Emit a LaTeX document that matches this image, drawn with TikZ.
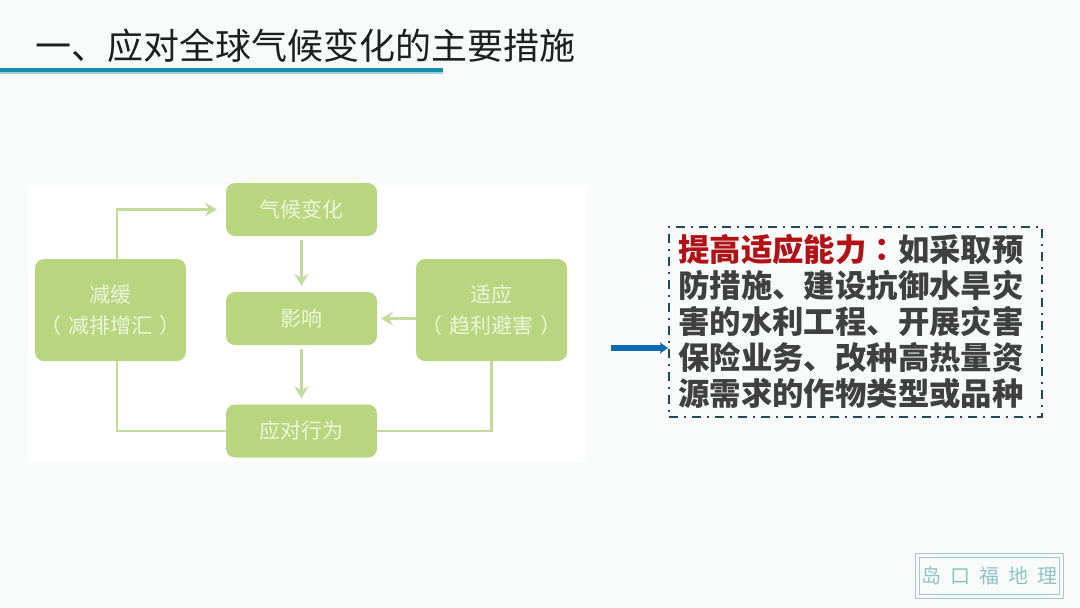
\documentclass[tikz,border=0pt]{standalone}
\usepackage{fontspec}
\usetikzlibrary{arrows.meta,calc}
\newfontfamily\cjk{Noto Sans CJK SC}
\newfontfamily\cjktc{Noto Sans CJK TC}
\definecolor{bgc}{HTML}{F9FBFB}
\definecolor{greenfill}{HTML}{B7D67F}
\definecolor{greenline}{HTML}{C4DA9C}
\definecolor{greentext}{HTML}{EDF5DC}
\definecolor{boxline}{HTML}{1F4A5E}
\definecolor{bodytext}{HTML}{404040}
\definecolor{redtext}{HTML}{B01218}
\definecolor{bluearrow}{HTML}{0F6CB4}
\definecolor{rulea}{HTML}{1B8CA8}
\definecolor{ruleb}{HTML}{8FD3DC}
\definecolor{stampline}{HTML}{A9C6C8}
\definecolor{stamptext}{HTML}{8FC2C6}
\tikzset{
  flowbox/.style={draw=none,fill=greenfill,rounded corners=9pt,text=greentext,align=center,
    inner sep=0pt,font=\cjk\fontsize{21}{31}\selectfont},
  flowline/.style={draw=greenline,line width=2.4pt},
  flowarrow/.style={flowline,-{Stealth[length=12pt,width=14pt,inset=4.5pt]}},
  notebox/.style={draw=boxline,line width=2pt,dash pattern=on 9pt off 6pt on 2pt off 6pt,
    minimum width=373pt,minimum height=190pt,inner sep=0pt},
  notetext/.style={text=bodytext,align=left,inner sep=0pt,text width=350pt,
    font=\cjk\bfseries\fontsize{31.4}{36}\selectfont},
}
\begin{document}
\begin{tikzpicture}[x=1pt,y=-1pt]
\useasboundingbox (0,0) rectangle (1080,608);
\fill[bgc] (0,0) rectangle (1080,608);
% title
\node[anchor=west,inner sep=0pt,text=black!88,font=\cjk\fontsize{36}{40}\selectfont] (title) at (35,46) {一、应对全球气候变化的主要措施};
\fill[rulea] (0,68) rectangle (443,72);
\fill[ruleb] (0,72) rectangle (443,74);
% panel
\fill[white] (28,185) rectangle (587,462);
% flow nodes
\node[flowbox,minimum width=151pt,minimum height=53pt] (qh) at (301.5,209.5) {气候变化};
\node[flowbox,minimum width=151pt,minimum height=53pt] (yx) at (301.5,318.5) {影响};
\node[flowbox,minimum width=151pt,minimum height=53pt] (yd) at (301.5,431) {应对行为};
\node[flowbox,minimum width=151pt,minimum height=102pt] (jh) at (110.5,310) {减缓\\（\hspace{7pt}减排增汇\hspace{7pt}）};
\node[flowbox,minimum width=151pt,minimum height=102pt] (sy) at (491.5,310) {适应\\（\hspace{7pt}趋利避害\hspace{7pt}）};
% connectors
\coordinate (qhin) at ($(qh.west)+(-9,0)$);
\draw[flowarrow] ([xshift=6.5pt]jh.north) |- (qhin);
\draw[flowarrow,shorten <=4pt,shorten >=6pt] (qh) -- (yx);
\draw[flowarrow,shorten <=4pt,shorten >=6pt] (yx) -- (yd);
\draw[flowarrow,shorten >=4pt] (sy.west |- yx) -- (yx.east);
\draw[flowline] ([xshift=6.5pt]jh.south) |- (yd.west);
\draw[flowline] (sy.south) |- (yd.east);
% note box
\node[notebox] (note) at (855.5,322) {};
\node[notetext,anchor=north west] (notebody) at (678,234) {{\color{redtext}提高适应能力{\cjktc ：}}如采取预\\防措施、建设抗御水旱灾\\害的水利工程、开展灾害\\保险业务、改种高热量资\\源需求的作物类型或品种};
\coordinate (blue) at (611,348);
\draw[bluearrow,line width=5.5pt,-{Stealth[length=8pt,width=11pt,inset=1.5pt]}] (blue) -- (blue -| note.west);
% stamp
\node[draw=stampline,line width=1pt,minimum width=148pt,minimum height=45pt,inner sep=0pt] (stampo) at (989,575.5) {};
\node[draw=stampline,line width=1pt,minimum width=140pt,minimum height=37pt,inner sep=0pt,text=stamptext,font=\cjk\fontsize{20}{22}\selectfont] (stampi) at (989,575.5) {岛\hspace{9pt}口\hspace{9pt}福\hspace{9pt}地\hspace{9pt}理};
\end{tikzpicture}
\end{document}
